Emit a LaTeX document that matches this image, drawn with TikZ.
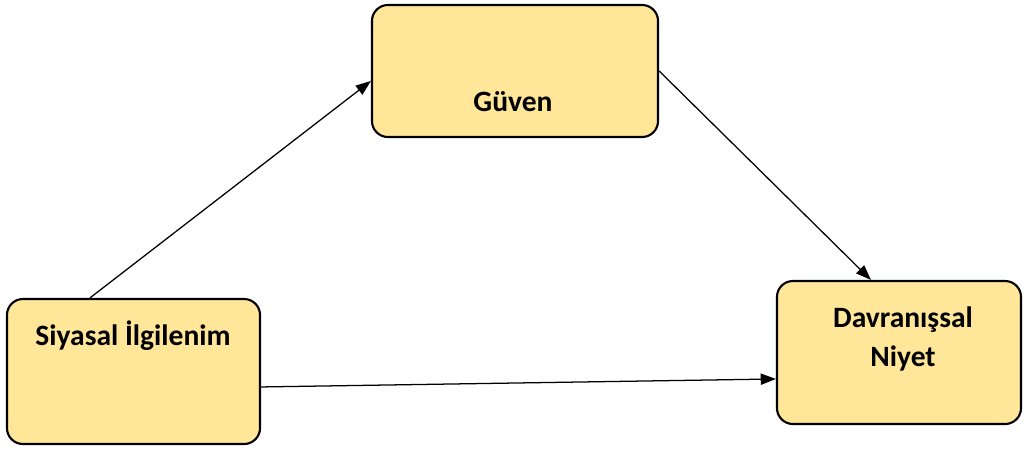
\documentclass[tikz,border=0pt]{standalone}
\usepackage{fontspec}
\setmainfont{Carlito}
\usetikzlibrary{arrows.meta}
\definecolor{boxfill}{HTML}{FFE699}

\tikzset{
  varbox/.style={draw=black,line width=1.5pt,fill=boxfill,rounded corners=0.4cm,inner sep=0pt},
  varlabel/.style={font=\fontsize{21}{27.7}\selectfont\bfseries,align=center,inner sep=0pt,anchor=base},
  path/.style={line width=0.9pt,-{Triangle[length=0.38cm,width=0.28cm]}}
}

\begin{document}
\begin{tikzpicture}[x=0.025cm,y=-0.025cm]
        \useasboundingbox (0,0) rectangle (1024,450);
        % boxes
        \node[varbox,minimum width=7.15cm,minimum height=3.3cm] (guven) at (515,71) {};
        \node[varbox,minimum width=6.325cm,minimum height=3.625cm] (siyasal) at (133.5,371.5) {};
        \node[varbox,minimum width=6.1cm,minimum height=3.575cm] (niyet) at (899,352.5) {};
        % labels
        \node[varlabel] (guvenText) at (513,111) {Güven};
        \node[varlabel] (siyasalText) at (133,345) {Siyasal İlgilenim};
        \node[varlabel] (niyetText) at (903,366) {Davranışsal\\Niyet};
        % paths
        \draw[path] ([xshift=2.1cm]siyasal.north west) -- ([yshift=-1.925cm]guven.north west);
        \draw[path] ([yshift=-1.675cm]guven.north east) -- ([xshift=2.375cm]niyet.north west);
        \draw[path] ([yshift=-2.225cm]siyasal.north east) -- ([yshift=-2.475cm]niyet.north west);
      \end{tikzpicture}
\end{document}
